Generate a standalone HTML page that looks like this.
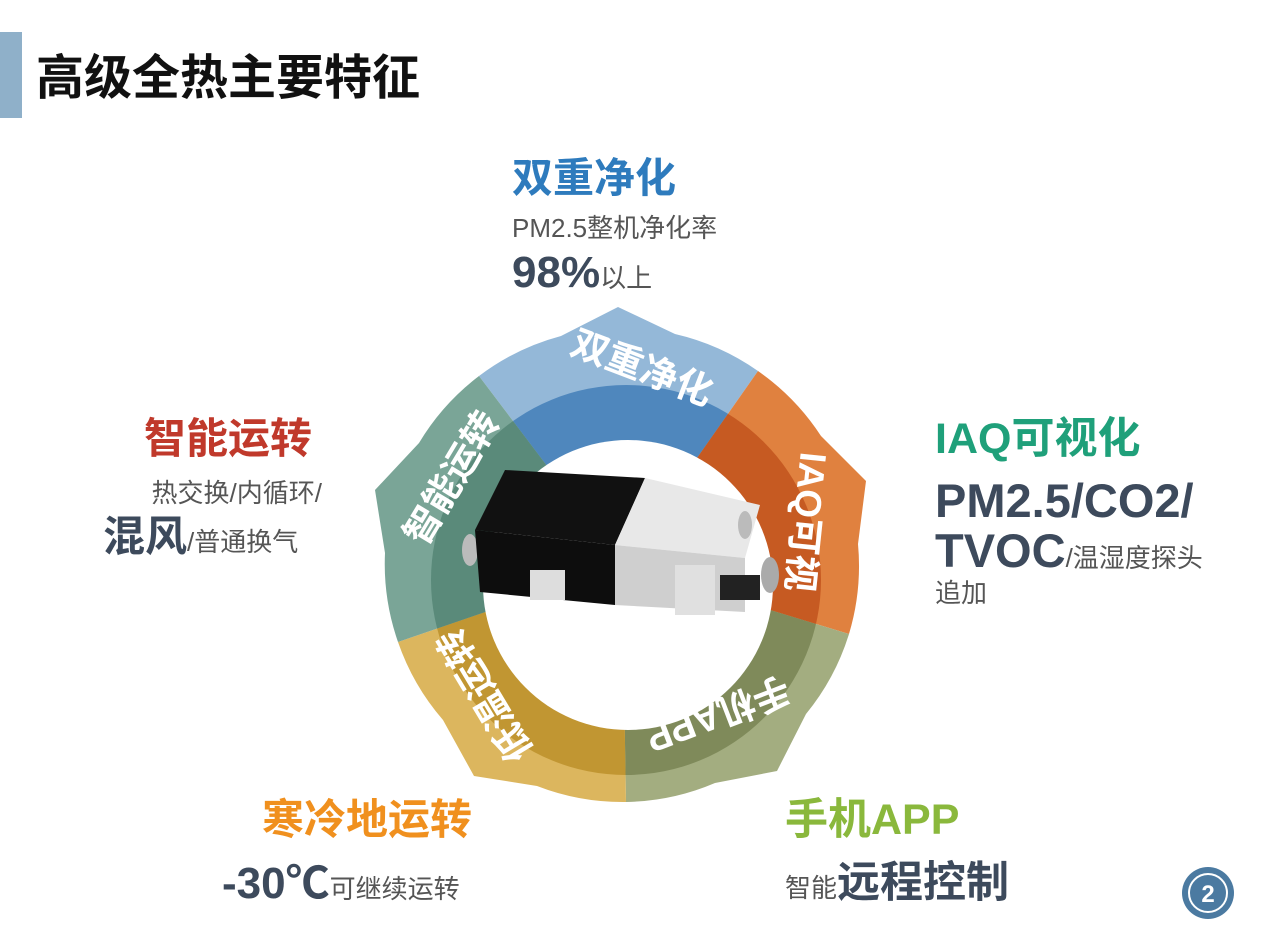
<!DOCTYPE html>
<html><head><meta charset="utf-8"><style>
body{margin:0;width:1267px;height:950px;background:#fff;overflow:hidden;position:relative;font-family:"Liberation Sans","Noto Sans CJK SC",sans-serif;}
.t{position:absolute;white-space:nowrap;line-height:1;}
.b{font-weight:bold}
.g{color:#555;font-size:26px}
.d{color:#3d4a5c;font-weight:bold}
</style></head><body>
<div style="position:absolute;left:0;top:32px;width:22px;height:86px;background:#8fb0c9"></div>
<div class="t b" style="left:36px;top:55px;font-size:48px;color:#111">高级全热主要特征</div>

<div class="t b" style="left:512px;top:158px;font-size:41px;color:#2e7bbd">双重净化</div>
<div class="t g" style="left:512px;top:215px">PM2.5整机净化率</div>
<div class="t" style="left:512px;top:251px"><span class="d" style="font-size:44px">98%</span><span class="g">以上</span></div>

<div class="t b" style="right:955px;top:418px;font-size:42px;color:#c0392b">智能运转</div>
<div class="t g" style="right:945px;top:480px">热交换/内循环/</div>
<div class="t" style="left:103px;top:516px"><span class="d" style="font-size:42px">混风</span><span class="g">/普通换气</span></div>

<div class="t b" style="left:935px;top:418px;font-size:43px;color:#1fa07a">IAQ可视化</div>
<div class="t d" style="left:935px;top:477px;font-size:47px">PM2.5/CO2/</div>
<div class="t" style="left:935px;top:527px"><span class="d" style="font-size:47px">TVOC</span><span class="g">/温湿度探头</span></div>
<div class="t g" style="left:935px;top:580px">追加</div>

<div class="t b" style="left:262px;top:799px;font-size:42px;color:#f0901e">寒冷地运转</div>
<div class="t" style="left:222px;top:862px"><span class="d" style="font-size:44px">-30℃</span><span class="g">可继续运转</span></div>

<div class="t b" style="left:785px;top:799px;font-size:43px;color:#8ab83c">手机APP</div>
<div class="t" style="left:785px;top:862px"><span class="g">智能</span><span class="d" style="font-size:43px">远程控制</span></div>

<svg style="position:absolute;left:0;top:0" width="1267" height="950">
<defs><clipPath id="dc"><circle cx="626" cy="580" r="195"/></clipPath></defs>
<g>
<path fill="#94b8d8" d="M622,565 L479,376 A237,237 0 0 1 561,336 L618,307 L675,334 A237,237 0 0 1 758,371 Z"/>
<path fill="#e0813f" d="M622,565 L758,371 A237,237 0 0 1 821,436 L866,481 L858,544 A237,237 0 0 1 849,634 Z"/>
<path fill="#a3ad80" d="M622,565 L849,634 A237,237 0 0 1 806,714 L777,771 L715,783 A237,237 0 0 1 626,802 Z"/>
<path fill="#dcb65e" d="M622,565 L626,802 A237,237 0 0 1 537,786 L474,776 L443,720 A237,237 0 0 1 398,642 Z"/>
<path fill="#7aa597" d="M622,565 L398,642 A237,237 0 0 1 385,553 L375,490 L419,443 A237,237 0 0 1 479,376 Z"/>
</g>
<g clip-path="url(#dc)">
<path fill="#4f87bd" d="M622,565 L479,376 A237,237 0 0 1 561,336 L618,307 L675,334 A237,237 0 0 1 758,371 Z"/>
<path fill="#c65a22" d="M622,565 L758,371 A237,237 0 0 1 821,436 L866,481 L858,544 A237,237 0 0 1 849,634 Z"/>
<path fill="#7f8a5a" d="M622,565 L849,634 A237,237 0 0 1 806,714 L777,771 L715,783 A237,237 0 0 1 626,802 Z"/>
<path fill="#c19632" d="M622,565 L626,802 A237,237 0 0 1 537,786 L474,776 L443,720 A237,237 0 0 1 398,642 Z"/>
<path fill="#5a8a7a" d="M622,565 L398,642 A237,237 0 0 1 385,553 L375,490 L419,443 A237,237 0 0 1 479,376 Z"/>
</g>
<circle cx="628" cy="585" r="145" fill="#fff"/>
<ellipse cx="470" cy="550" rx="8" ry="16" fill="#bbb"/>
<polygon points="505,470 645,478 615,545 475,530" fill="#111"/>
<polygon points="645,478 760,505 745,558 615,545" fill="#e8e8e8"/>
<polygon points="475,530 615,545 615,605 480,592" fill="#0d0d0d"/>
<polygon points="615,545 745,558 745,612 615,605" fill="#cfcfcf"/>
<rect x="530" y="570" width="35" height="30" fill="#ddd"/>
<rect x="675" y="565" width="40" height="50" fill="#e0e0e0"/>
<rect x="720" y="575" width="40" height="25" fill="#222"/>
<ellipse cx="770" cy="575" rx="9" ry="18" fill="#aaa"/>
<ellipse cx="745" cy="525" rx="7" ry="14" fill="#bbb"/>
<g fill="#fff" font-weight="bold" font-size="37" font-family="Liberation Sans,Noto Sans CJK SC,sans-serif" text-anchor="middle" dominant-baseline="central">
<text transform="translate(642,368) rotate(21)">双重净化</text>
<text transform="translate(806,522) rotate(96)">IAQ可视</text>
<text transform="translate(718,714) rotate(159)">手机APP</text>
<text transform="translate(485,695) rotate(-121)">低温运转</text>
<text transform="translate(452,478) rotate(-59)">智能运转</text>
</g>
<circle cx="1208" cy="893" r="26" fill="#4b7aa1"/>
<circle cx="1208" cy="893" r="19" fill="none" stroke="#fff" stroke-width="2"/>
<text x="1208" y="902" fill="#fff" font-size="24" font-weight="bold" text-anchor="middle" font-family="Liberation Sans,sans-serif">2</text>
</svg>
</body></html>
